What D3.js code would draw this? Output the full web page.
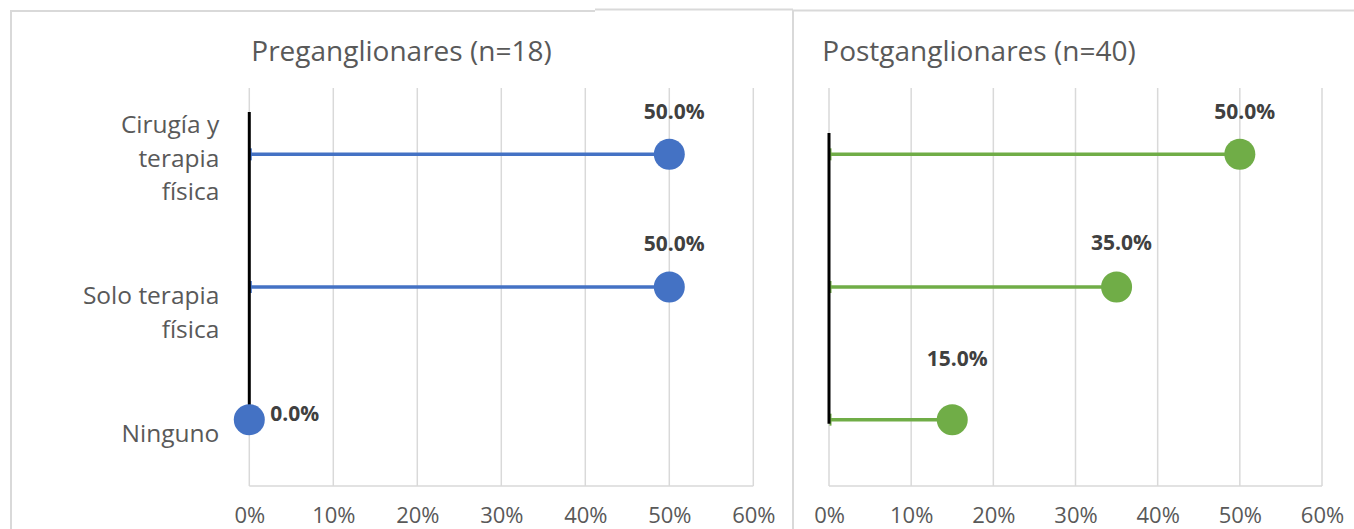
<!DOCTYPE html>
<html>
<head>
<meta charset="utf-8">
<script src="https://cdn.jsdelivr.net/npm/d3@7"></script>
<style>
  html, body { margin: 0; padding: 0; background: #fff; }
  svg { display: block; font-family: "Open Sans", "DejaVu Sans", sans-serif; }
</style>
</head>
<body>
<svg id="chart" width="1354" height="529"></svg>
<script>
// ---------- data ----------
const categories = ["Cirugía y terapia física", "Solo terapia física", "Ninguno"];
const categoryLines = [["Cirugía y", "terapia", "física"], ["Solo terapia", "física"], ["Ninguno"]];
const preValues = [0.50, 0.50, 0.00];
const postValues = [0.50, 0.35, 0.15];
const titles = ["Preganglionares (n=18)", "Postganglionares (n=40)"];
const tickValues = [0, 0.1, 0.2, 0.3, 0.4, 0.5, 0.6];
const tickLabels = ["0%", "10%", "20%", "30%", "40%", "50%", "60%"];

// ---------- layout ----------
const W = 1354, H = 529;
const panels = [
  { values: preValues, title: titles[0], color: "#4472C4", x0: 249.3, x1: 753.3, titleX: 401.5,
    axisTop: -0.32, axisBot: 2.0, labelDy: [-43, -43, -6], labelSide: ["above", "above", "right"] },
  { values: postValues, title: titles[1], color: "#70AD47", x0: 829, x1: 1322, titleX: 979,
    axisTop: -0.16, axisBot: 2.03, labelDy: [-43, -44, -61], labelSide: ["above", "above", "above"] }
];
const plotTop = 88, plotBot = 486;
const catLabelDy = [-21, 17, 22];
const lineH = 33.5;

const svg = d3.select("#chart");
const gray = "#d9d9d9";

// frame
svg.append("path").attr("d", `M11,${H + 5} L11,11 L595,11`).attr("fill", "none").attr("stroke", gray).attr("stroke-width", 2);
svg.append("line").attr("x1", 595).attr("x2", 793).attr("y1", 9.5).attr("y2", 9.5).attr("stroke", gray).attr("stroke-width", 2);
svg.append("line").attr("x1", 793).attr("x2", W).attr("y1", 10.5).attr("y2", 10.5).attr("stroke", gray).attr("stroke-width", 2);
svg.append("line").attr("x1", 793).attr("x2", 793).attr("y1", 10).attr("y2", H + 5).attr("stroke", gray).attr("stroke-width", 2);

const y = d3.scaleBand().domain(categories).range([plotTop, plotBot]).padding(0);
const yc = d3.scaleLinear().domain([-0.5, categories.length - 0.5]).range([plotTop, plotBot]);

panels.forEach((p, pi) => {
  const x = d3.scaleLinear().domain([0, 0.6]).range([p.x0, p.x1]);
  const g = svg.append("g");

  // title
  g.append("text").attr("x", p.titleX).attr("y", 61).attr("text-anchor", "middle")
    .attr("fill", "#595959").attr("font-size", 28).text(p.title);

  // gridlines
  g.append("g").selectAll("line").data(tickValues).join("line")
    .attr("x1", d => x(d)).attr("x2", d => x(d))
    .attr("y1", plotTop).attr("y2", plotBot)
    .attr("stroke", gray).attr("stroke-width", 1.5);
  // bottom axis line
  g.append("line").attr("x1", x(0)).attr("x2", x(0.6)).attr("y1", plotBot).attr("y2", plotBot)
    .attr("stroke", gray).attr("stroke-width", 1.5);

  // tick labels via axis
  const axis = d3.axisBottom(x).tickValues(tickValues).tickFormat((d, i) => tickLabels[i]).tickSize(0).tickPadding(0);
  const ax = g.append("g").attr("transform", `translate(0,${plotBot})`).call(axis);
  ax.select(".domain").remove();
  ax.selectAll("text").attr("fill", "#595959").attr("font-size", 22)
    .attr("font-family", "\"Open Sans\", sans-serif").attr("dy", null).attr("y", 37);

  // stems
  const rows = categories.map((c, i) => ({ c, i, v: p.values[i] }));
  g.append("g").selectAll("line").data(rows.filter(r => r.v > 0)).join("line")
    .attr("x1", x(0)).attr("x2", d => x(d.v))
    .attr("y1", d => y(d.c) + y.bandwidth() / 2).attr("y2", d => y(d.c) + y.bandwidth() / 2)
    .attr("stroke", p.color).attr("stroke-width", 3.5);
  // small caps at origin
  g.append("g").selectAll("line").data(rows.filter(r => r.v > 0)).join("line")
    .attr("x1", x(0) + 1.5).attr("x2", x(0) + 1.5)
    .attr("y1", d => y(d.c) + y.bandwidth() / 2 - 6).attr("y2", d => y(d.c) + y.bandwidth() / 2 + 6)
    .attr("stroke", p.color).attr("stroke-width", 2);

  // black vertical axis line
  g.append("line").attr("x1", x(0)).attr("x2", x(0))
    .attr("y1", yc(p.axisTop)).attr("y2", yc(p.axisBot))
    .attr("stroke", "#000").attr("stroke-width", 3);

  // dots
  g.append("g").selectAll("circle").data(rows).join("circle")
    .attr("cx", d => x(d.v)).attr("cy", d => y(d.c) + y.bandwidth() / 2)
    .attr("r", 15.5).attr("fill", p.color);

  // data labels
  g.append("g").selectAll("text").data(rows).join("text")
    .attr("x", d => p.labelSide[d.i] === "right" ? x(d.v) + 21 : x(d.v) + 5)
    .attr("y", d => y(d.c) + y.bandwidth() / 2 + p.labelDy[d.i])
    .attr("dy", "0.35em")
    .attr("text-anchor", d => p.labelSide[d.i] === "right" ? "start" : "middle")
    .attr("font-size", 21).attr("font-weight", "bold").attr("fill", "#404040")
    .text(d => d3.format(".1%")(d.v));

  // category labels (left panel only)
  if (pi === 0) {
    const cg = g.append("g");
    categories.forEach((c, i) => {
      const t = cg.append("text").attr("text-anchor", "end").attr("fill", "#595959").attr("font-size", 24.5);
      categoryLines[i].forEach((ln, k) => {
        t.append("tspan").attr("x", x(0) - 30)
          .attr("y", y(c) + y.bandwidth() / 2 + catLabelDy[i] + k * lineH).text(ln);
      });
    });
  }
});
</script>
</body>
</html>
